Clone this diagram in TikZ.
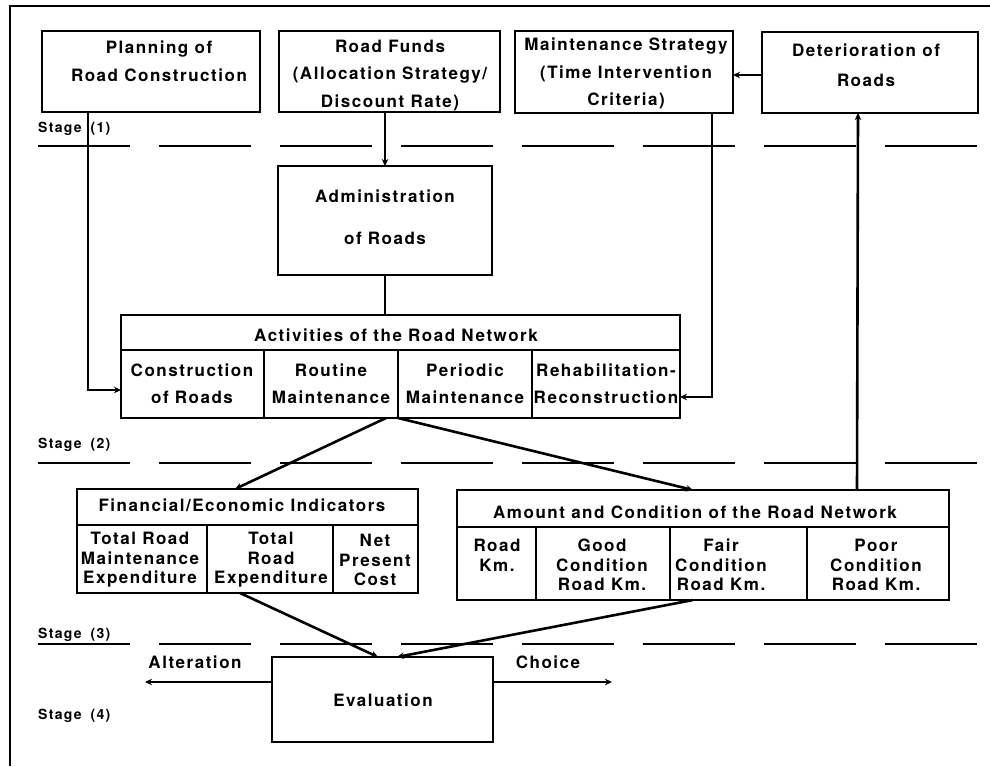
\documentclass[tikz,border=0pt]{standalone}
\usepackage{fontspec}
\setmainfont{TeX Gyre Heros}[LetterSpace=9]
\usetikzlibrary{arrows.meta}
\begin{document}
\begin{tikzpicture}[x=1pt,y=-1pt,
  box/.style={draw, line width=1.9pt, inner sep=0pt, outer sep=0pt},
  sep/.style={line width=1.7pt},
  txt/.style={font=\bfseries\fontsize{17}{27.5}\selectfont, align=center, inner sep=0pt},
  ttxt/.style={font=\bfseries\fontsize{17}{19.5}\selectfont, align=center, inner sep=0pt},
  stg/.style={font=\bfseries\fontsize{14}{16}\selectfont, anchor=west, inner sep=0pt},
  conn/.style={line width=2.6pt},
  arr/.style={conn, -{Stealth[length=7pt,width=6.5pt]}},
  stageline/.style={line width=1.7pt, dash pattern=on 92pt off 29pt},
]
\useasboundingbox (0,0) rectangle (990,766);
\fill[white] (0,0) rectangle (990,766);
% frame
\draw[line width=1.9pt] (10,766) -- (10,6) -- (990,6);

% top boxes
\node[box, minimum width=218pt, minimum height=81pt] (plan) at (151,71.5) {};
\node[txt] (plant) at (159,61.5) {Planning of\\Road Construction};
\node[box, minimum width=221pt, minimum height=81pt] (funds) at (389.5,71.5) {};
\node[txt] (fundst) at (390,75.5) {Road Funds\\(Allocation Strategy/\\Discount Rate)};
\node[box, minimum width=218pt, minimum height=82pt] (mstrat) at (624,72) {};
\node[txt] (mstratt) at (626,73.5) {Maintenance Strategy\\(Time Intervention\\Criteria)};
\node[box, minimum width=216pt, minimum height=81pt] (deter) at (870,72.5) {};
\node[txt, font=\bfseries\fontsize{17}{30}\selectfont] (detert) at (866,65) {Deterioration of\\Roads};

% administration
\node[box, minimum width=214pt, minimum height=109pt] (admin) at (385,220.5) {};
\node[txt, font=\bfseries\fontsize{17}{42}\selectfont] (admint) at (385,217) {Administration\\of Roads};

% activities table
\node[box, minimum width=559pt, minimum height=103pt] (act) at (400.5,366.5) {};
\draw[sep] (act.west |- 0,350) -- (act.east |- 0,350);
\foreach \cx in {264,398,532} \draw[sep] (\cx,350) -- (\cx,0 |- act.south);
\node[txt] (actt) at (396,335) {Activities of the Road Network};
\node[txt, font=\bfseries\fontsize{17}{27}\selectfont] (act1) at (192,383.5) {Construction\\of Roads};
\node[txt, font=\bfseries\fontsize{17}{27}\selectfont] (act2) at (331,383.5) {Routine\\Maintenance};
\node[txt, font=\bfseries\fontsize{17}{27}\selectfont] (act3) at (465,383.5) {Periodic\\Maintenance};
\node[txt, font=\bfseries\fontsize{17}{27}\selectfont] (act4) at (606,383.5) {Rehabilitation-\\Reconstruction};

% financial table
\node[box, minimum width=341pt, minimum height=104pt] (fin) at (247.5,541) {};
\draw[sep] (fin.west |- 0,525) -- (fin.east |- 0,525);
\foreach \cx in {207,333} \draw[sep] (\cx,525) -- (\cx,0 |- fin.south);
\node[txt] (fint) at (242,505) {Financial/Economic Indicators};
\node[ttxt] (fin1) at (140,560) {Total Road\\Maintenance\\Expenditure};
\node[ttxt] (fin2) at (271,560) {Total\\Road\\Expenditure};
\node[ttxt] (fin3) at (375,560) {Net\\Present\\Cost};

% amount table
\node[box, minimum width=492pt, minimum height=110pt] (amt) at (703,545) {};
\draw[sep] (amt.west |- 0,527) -- (amt.east |- 0,527);
\foreach \cx in {536,670,807} \draw[sep] (\cx,527) -- (\cx,0 |- amt.south);
\node[txt] (amtt) at (695,512) {Amount and Condition of the Road Network};
\node[ttxt] (amt1) at (497,555.5) {Road\\Km.};
\node[ttxt] (amt2) at (602,565) {Good\\Condition\\Road Km.};
\node[ttxt] (amt3) at (721,565) {Fair\\Condition\\Road Km.};
\node[ttxt] (amt4) at (876,565) {Poor\\Condition\\Road Km.};

% evaluation
\node[box, minimum width=221pt, minimum height=85pt] (eval) at (382.5,699.5) {};
\node[txt] (evalt) at (383,700) {Evaluation};
\coordinate (altend) at (145,682);
\coordinate (choiceend) at (612,682);
\node[txt] (altt) at (195,662) {Alteration};
\node[txt] (choicet) at (548,662) {Choice};

% stage lines and labels
\draw[stageline] (38,146) -- (977,146);
\draw[stageline] (38,463) -- (977,463);
\draw[stageline] (38,644) -- (977,644);
\node[stg] (s1) at (38,129) {Stage\hspace{4pt} (1)};
\node[stg] (s2) at (38,445) {Stage\hspace{4pt} (2)};
\node[stg] (s3) at (38,635) {Stage\hspace{4pt} (3)};
\node[stg] (s4) at (38,716) {Stage\hspace{4pt} (4)};

% connectors
\draw[arr] (88,0 |- plan.south) |- (act.west |- 0,390);
\draw[arr] (admin.north |- funds.south) -- (admin.north);
\draw[conn] (admin.south) -- (admin.south |- act.north);
\draw[arr] (712,0 |- mstrat.south) |- (act.east |- 0,397);
\draw[arr] (deter.west |- 0,75) -- (mstrat.east |- 0,75);
\draw[arr] (857,0 |- amt.north) -- (858,0 |- deter.south);
\draw[arr] (act.south -| 386,0) -- (fin.north -| 235,0);
\draw[arr] (act.south -| 398,0) -- (amt.north -| 693,0);
\draw[arr] (fin.south -| 240,0) -- (eval.north -| 378,0);
\draw[arr] (amt.south -| 693,0) -- (eval.north -| 397,0);
\draw[arr] (eval.west |- altend) -- (altend);
\draw[arr] (eval.east |- choiceend) -- (choiceend);
\end{tikzpicture}
\end{document}
